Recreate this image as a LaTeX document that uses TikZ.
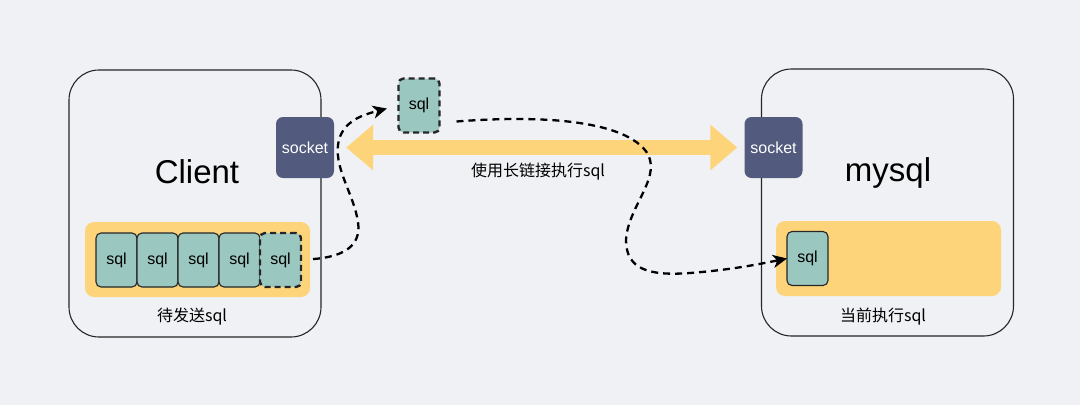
\documentclass[tikz,border=0pt]{standalone}
\usepackage{fontspec}
\setmainfont{Liberation Sans}
\newfontfamily\cjk{Noto Sans CJK SC}
\usepackage{tikz}
\usetikzlibrary{positioning, arrows.meta}
\definecolor{bg}{HTML}{F0F1F4}
\definecolor{pad}{HTML}{FED47A}
\definecolor{sqlgreen}{HTML}{9AC7BF}
\definecolor{sockblue}{HTML}{525A7E}
\tikzset{
x=1pt, y=-1pt, % one unit is one pixel of the picture, y runs downwards
server/.style={draw=black!85, line width=1.1pt, rounded corners=30pt, minimum width=252pt, minimum height=267pt}, % the Client and mysql boxes
socket/.style={fill=sockblue, rounded corners=7pt, minimum width=58pt, minimum height=61pt, text=white, font=\fontsize{16}{16}\selectfont}, % the socket blocks
queue/.style={fill=pad, rounded corners=9pt, minimum width=225pt, minimum height=75pt}, % the yellow pads
sqlbox/.style={draw=black!85, fill=sqlgreen, line width=1.1pt, rounded corners=5pt, minimum width=41pt, minimum height=54pt, inner sep=0pt, outer sep=0pt, font=\fontsize{16}{16}\selectfont}, % one sql statement
pending/.style={sqlbox, line width=2.4pt, dash pattern=on 6pt off 4pt}, % the statement that is on its way
flow/.style={draw=black, line width=2.3pt, dash pattern=on 7pt off 5pt, -{Stealth[length=14pt, width=13pt, inset=4pt]}}, % dashed moving lines
caption/.style={font=\fontsize{16}{16}\selectfont\cjk}, % small labels
}
\begin{document}
\begin{tikzpicture}
\fill[bg] (0,0) rectangle (1080,405);
\useasboundingbox (0,0) rectangle (1080,405);

% client side
\node[server] (client) at (195,203.5) {};
\node[font=\fontsize{33}{33}\selectfont] (client_name) at (197,172) {Client};
\node[queue] (client_queue) at (197.5,259.5) {};
\node[sqlbox] (sql_1) at (116.5,260) {sql};
\node[sqlbox, right=0pt of sql_1] (sql_2) {sql};
\node[sqlbox, right=0pt of sql_2] (sql_3) {sql};
\node[sqlbox, right=0pt of sql_3] (sql_4) {sql};
\node[pending, right=0pt of sql_4] (sql_5) {sql};
\node[caption] (client_caption) at (192,317) {待发送sql};
\node[socket] (client_socket) at (305,147.5) {socket};

% mysql side
\node[server] (mysql) at (887.5,202.5) {};
\node[font=\fontsize{33}{33}\selectfont] (mysql_name) at (888,173) {mysql};
\node[queue] (mysql_queue) at (888.5,258.5) {};
\node[sqlbox] (cur_sql) at (807.5,258.5) {sql};
\node[caption] (mysql_caption) at (883,317) {当前执行sql};
\node[socket] (mysql_socket) at (773.5,147.5) {socket};

% the long connection
\draw[pad, line width=15pt, shorten <=12pt, shorten >=7pt,
      {Triangle[length=27pt, width=44pt]}-{Triangle[length=27pt, width=44pt]}]
    (client_socket.east) -- (mysql_socket.west);
\node[caption] (link_label) at (538,172) {使用长链接执行sql};

% statement on its way
\node[pending] (msg_sql) at (419,105.5) {sql};
\draw[flow, shorten <=12pt, shorten >=12pt]
    (sql_5.east) .. controls (340,257) and (362,248) .. (358,222)
    .. controls (354,195) and (335,170) .. (338,145)
    .. controls (341,120) and (366,114) .. (msg_sql.west);
\draw[flow]
    ([shift={(17,16)}]msg_sql.east) .. controls (540,115) and (620,120) .. (645,150)
    .. controls (665,175) and (628,205) .. (626,240)
    .. controls (626,270) and (650,276) .. (690,273)
    .. controls (730,270) and (760,264) .. (cur_sql.west);
\end{tikzpicture}
\end{document}
